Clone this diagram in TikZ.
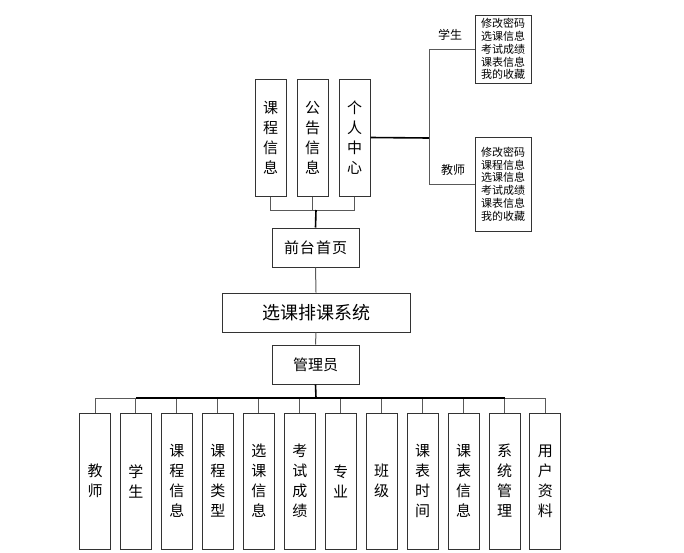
\documentclass[tikz,border=0pt]{standalone}
\usepackage{fontspec}
\setmainfont{Noto Sans CJK SC}
\begin{document}
\begin{tikzpicture}[x=1pt,y=-1pt,
  box/.style={draw=black!80,line width=1pt,inner sep=0pt,align=center,anchor=center},
  vbox/.style={box,minimum width=31pt,font={\fontsize{15}{20}\selectfont}},
  hbox/.style={box,minimum width=87pt,minimum height=39pt,font={\fontsize{15}{18}\selectfont}},
  sbox/.style={box,minimum width=56pt,font={\fontsize{11}{12.8}\selectfont}},
  lab/.style={inner sep=0pt,font={\fontsize{12}{14}\selectfont}},
  ln/.style={draw=black!65,line width=1pt},
  tk/.style={draw=black,line width=1.6pt}]
\useasboundingbox (0,0) rectangle (684,552);
% top boxes
\node[vbox,minimum height=117pt] (kcxx) at (270.5,137.5) {课\\程\\信\\息};
\node[vbox,minimum height=117pt] (ggxx) at (312.5,137.5) {公\\告\\信\\息};
\node[vbox,minimum height=117pt] (grzx) at (354.5,137.5) {个\\人\\中\\心};
\node[hbox] (qtsy) at (315.5,247.5) {前\kern1pt 台\kern1pt 首\kern1pt 页};
\node[box,minimum width=188pt,minimum height=39pt,font={\fontsize{18}{20}\selectfont}] (xtxt) at (316,312.5) {选课排课系统};
\node[hbox] (gly) at (315.5,364.5) {管理员};
% personal center
\node[sbox,minimum height=68pt] (stu) at (503,49) {修改密码\\选课信息\\考试成绩\\课表信息\\我的收藏};
\node[sbox,minimum height=94pt] (tea) at (503,184) {修改密码\\课程信息\\选课信息\\考试成绩\\课表信息\\我的收藏};
\node[lab] (lstu) at (450,35) {学生};
\node[lab] (ltea) at (453,170) {教师};
\coordinate (br) at (429,138);
\draw[tk] (grzx.east) -- (br);
\draw[ln] (stu.west) -| (br);
\draw[ln] (tea.west) -| (br);
% top tree
\coordinate (tj) at (316,210);
\draw[ln] (kcxx.south) |- (tj);
\draw[ln] (ggxx.south) |- (tj);
\draw[ln] (grzx.south) |- (tj);
\draw[tk] (tj) -- (qtsy.north);
\draw[ln] (qtsy.south) -- (xtxt.north);
\draw[ln] (xtxt.south) -- (gly.north);
% bottom boxes
\foreach \i/\t in {0/{教\\师},1/{学\\生},2/{课\\程\\信\\息},3/{课\\程\\类\\型},4/{选\\课\\信\\息},5/{考\\试\\成\\绩},6/{专\\业},7/{班\\级},8/{课\\表\\时\\间},9/{课\\表\\信\\息},10/{系\\统\\管\\理},11/{用\\户\\资\\料}}{
  \node[vbox,minimum height=136pt] (b\i) at ({95+40.95*\i},481) {\t};
}
\coordinate (bj) at (316,398);
\draw[tk] (gly.south) -- (bj);
\foreach \i in {0,...,11}{
  \draw[ln] (b\i.north) |- (bj);
}
\draw[tk] (b1.north |- bj) -- (b10.north |- bj);
\end{tikzpicture}
\end{document}
